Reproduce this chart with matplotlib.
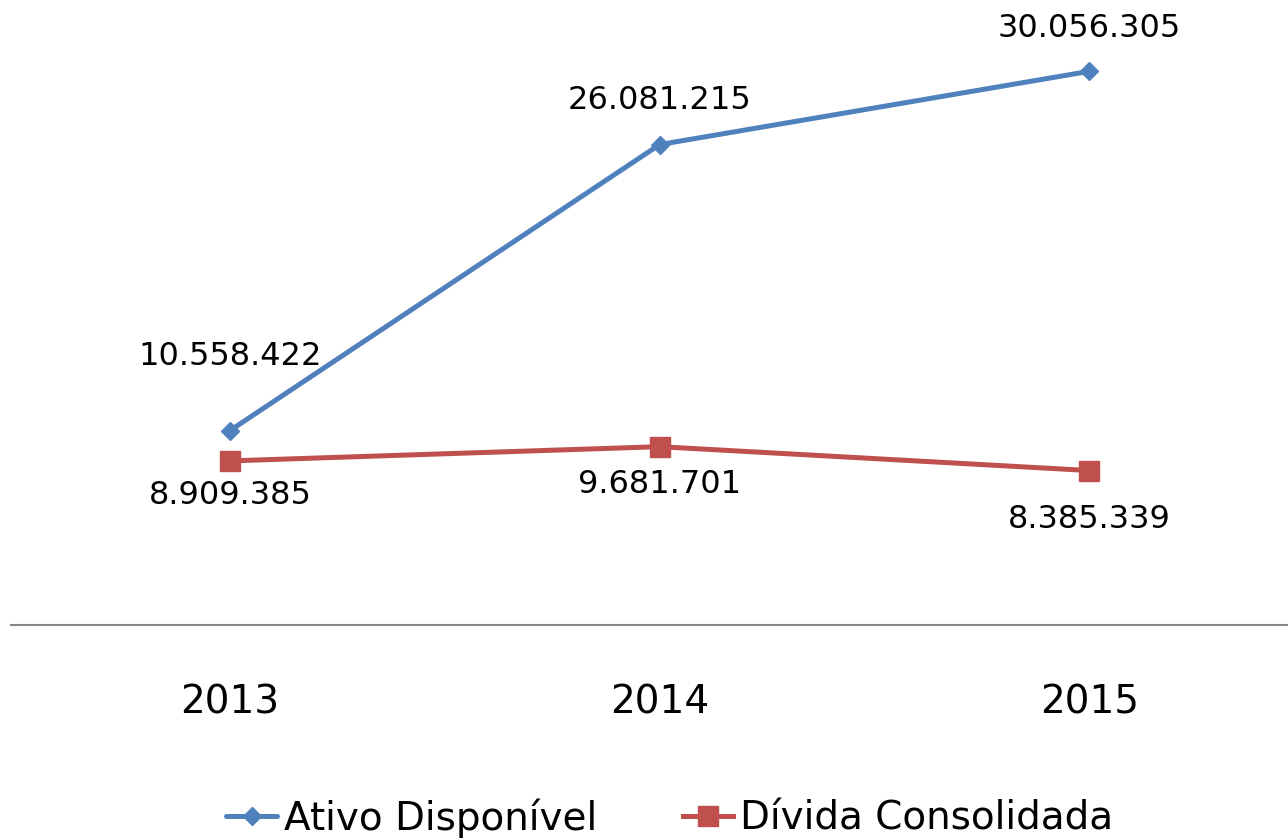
import numpy as np
import matplotlib.pyplot as plt

years = ['2013', '2014', '2015']
ativo = [10558422, 26081215, 30056305]
divida = [8909385, 9681701, 8385339]
ativo_labels = ['10.558.422', '26.081.215', '30.056.305']
divida_labels = ['8.909.385', '9.681.701', '8.385.339']

fig = plt.figure(figsize=(12.88, 8.4), dpi=100)
ax = fig.add_axes([11 / 1288, 1 - 625 / 840, 1 - 11 / 1288, 625 / 840])
x = np.arange(len(years))

ax.plot(x, ativo, color='#4F81BD', lw=3.6, marker='D', ms=9,
        label='Ativo Disponível', solid_capstyle='round')
ax.plot(x, divida, color='#C0504D', lw=3.6, marker='s', ms=15,
        label='Dívida Consolidada')

ax.set_xlim(-0.51, 2.463)
ax.set_ylim(0, 33.93e6)

# data labels (offsets in points)
ativo_off = [(0, 53), (0, 32), (0, 31)]
divida_off = [(0, -25), (0, -27), (0, -35)]
for i in range(len(years)):
    ax.annotate(ativo_labels[i], (x[i], ativo[i]), xytext=ativo_off[i],
                textcoords='offset points', ha='center', va='center',
                fontsize=23, family='DejaVu Sans')
    ax.annotate(divida_labels[i], (x[i], divida[i]), xytext=divida_off[i],
                textcoords='offset points', ha='center', va='center',
                fontsize=23, family='DejaVu Sans')

for s in ['top', 'right', 'left']:
    ax.spines[s].set_visible(False)
ax.spines['bottom'].set_color('#868686')
ax.spines['bottom'].set_linewidth(1.5)
ax.set_yticks([])
ax.set_xticks(x)
ax.set_xticklabels(years, fontsize=28, family='DejaVu Sans')
ax.tick_params(axis='x', length=0, pad=42)

fig.legend(loc='center', bbox_to_anchor=(0.52, 22 / 840),
           ncol=2, frameon=False, handlelength=1.3, columnspacing=2.2,
           handletextpad=0.18,
           prop={'family': 'DejaVu Sans', 'size': 28})

fig.savefig('out.png', dpi=100)
